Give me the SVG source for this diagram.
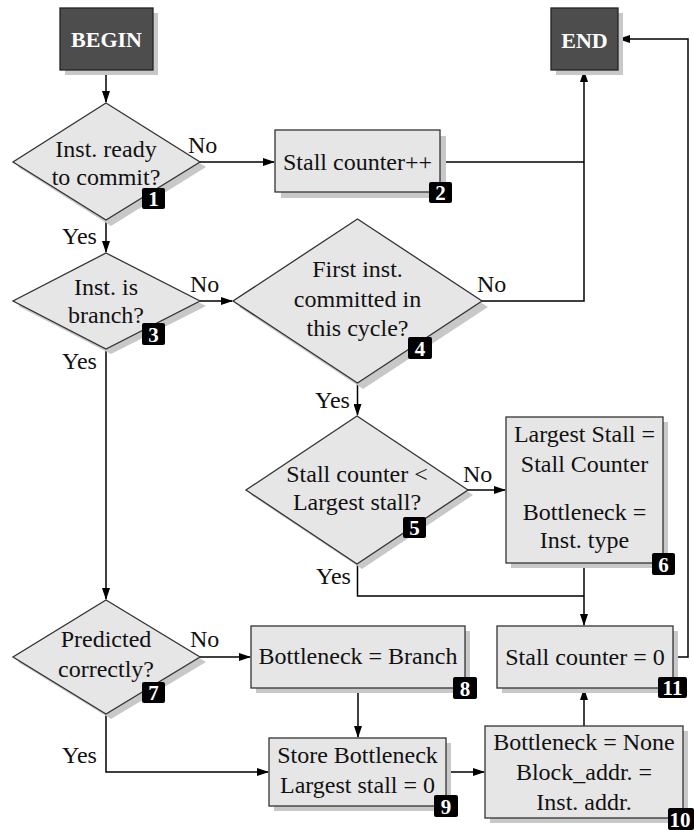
<svg xmlns="http://www.w3.org/2000/svg" width="694" height="830" viewBox="0 0 694 830" font-family="'Liberation Serif', 'Times New Roman', serif" font-size="24">
<style>
svg text{font-family:'Liberation Serif','Times New Roman',serif;font-size:24px;fill:#111;}
.c{text-anchor:middle;}
.shadow{fill:#c8c8c8;stroke:none;}
.box{fill:#e6e6e6;stroke:#333;stroke-width:1.3;}
.dark{fill:#4d4d4d;stroke:#222;stroke-width:1.3;}
svg text.term{fill:#fff;font-weight:bold;font-size:22px;text-anchor:middle;}
svg .badge rect{fill:#000;}
svg .badge text{fill:#fff;font-weight:bold;font-size:21px;text-anchor:middle;}
.conn{fill:none;stroke:#000;stroke-width:1.5;}
</style>
<defs>
<marker id="ah" markerWidth="12" markerHeight="8" refX="11" refY="4" orient="auto" markerUnits="userSpaceOnUse">
<path d="M0,0 L12,4 L0,8 Z" fill="#000"/>
</marker>
</defs>

<g id="connectors">
<path class="conn" d="M106,70 V102" marker-end="url(#ah)"/>
<path class="conn" d="M200,162 H274" marker-end="url(#ah)"/>
<path class="conn" d="M440,162 H584"/>
<path class="conn" d="M482,301 H584 V71" marker-end="url(#ah)"/>
<path class="conn" d="M106,220 V252" marker-end="url(#ah)"/>
<path class="conn" d="M200,301 H232" marker-end="url(#ah)"/>
<path class="conn" d="M106,349 V599" marker-end="url(#ah)"/>
<path class="conn" d="M357.5,383 V415" marker-end="url(#ah)"/>
<path class="conn" d="M468,490 H505" marker-end="url(#ah)"/>
<path class="conn" d="M584,563 V625" marker-end="url(#ah)"/>
<path class="conn" d="M357.5,564 V596 H584"/>
<path class="conn" d="M673,657 H688 V39 H619" marker-end="url(#ah)"/>
<path class="conn" d="M200,657 H250" marker-end="url(#ah)"/>
<path class="conn" d="M106,714 V772 H268" marker-end="url(#ah)"/>
<path class="conn" d="M358,688 V737" marker-end="url(#ah)"/>
<path class="conn" d="M446,772 H484" marker-end="url(#ah)"/>
<path class="conn" d="M584,726 V689" marker-end="url(#ah)"/>
<text x="188" y="153">No</text>
<text x="62" y="244">Yes</text>
<text x="190" y="292">No</text>
<text x="62" y="369">Yes</text>
<text x="477" y="292">No</text>
<text x="315" y="408">Yes</text>
<text x="463" y="482">No</text>
<text x="316" y="584">Yes</text>
<text x="190" y="647">No</text>
<text x="62" y="763">Yes</text>
</g>

<g id="begin">
<rect class="shadow" x="65" y="13" width="93" height="62"/>
<rect class="dark" x="60" y="8" width="93" height="62"/>
<text class="term" x="106.5" y="47">BEGIN</text>
</g>

<g id="end">
<rect class="shadow" x="556" y="13" width="67" height="62"/>
<rect class="dark" x="551" y="8" width="67" height="62"/>
<text class="term" x="584.5" y="48">END</text>
</g>

<g id="n1">
<polygon class="shadow" points="111,108 206,167 111,226 18,167"/>
<polygon class="box" points="106,103 200,162 106,220 13,162"/>
<text class="c" x="106" y="157">Inst. ready</text>
<text class="c" x="106" y="185">to commit?</text>
<g class="badge"><rect x="142" y="188" width="23" height="21" rx="2"/><text x="153.5" y="206">1</text></g>
</g>

<g id="n2">
<rect class="shadow" x="281" y="136" width="165" height="62"/>
<rect class="box" x="275" y="130" width="165" height="62"/>
<text class="c" x="357.5" y="170">Stall counter++</text>
<g class="badge"><rect x="429" y="182" width="23" height="21" rx="2"/><text x="440.5" y="200">2</text></g>
</g>

<g id="n3">
<polygon class="shadow" points="111,258 206,306 111,354 18,306"/>
<polygon class="box" points="106,253 200,301 106,349 13,301"/>
<text class="c" x="106" y="295">Inst. is</text>
<text class="c" x="106" y="323">branch?</text>
<g class="badge"><rect x="142" y="323" width="23" height="22" rx="2"/><text x="153.5" y="342">3</text></g>
</g>

<g id="n4">
<polygon class="shadow" points="363,225 488,307 363,389 239,307"/>
<polygon class="box" points="357.5,219 482,301 357.5,383 233,301"/>
<text class="c" x="357.5" y="277">First inst.</text>
<text class="c" x="357.5" y="307">committed in</text>
<text class="c" x="357.5" y="336">this cycle?</text>
<g class="badge"><rect x="408" y="337" width="24" height="22" rx="2"/><text x="420" y="356">4</text></g>
</g>

<g id="n5">
<polygon class="shadow" points="362,421 473,495 362,569 251,495"/>
<polygon class="box" points="357,416 468,490 357,564 246,490"/>
<text class="c" x="357" y="482">Stall counter &lt;</text>
<text class="c" x="357" y="510">Largest stall?</text>
<g class="badge"><rect x="403" y="517" width="23" height="21" rx="2"/><text x="414.5" y="535">5</text></g>
</g>

<g id="n6">
<rect class="shadow" x="511" y="422" width="157" height="146"/>
<rect class="box" x="506" y="417" width="157" height="146"/>
<text class="c" x="584.5" y="442">Largest Stall =</text>
<text class="c" x="584.5" y="472">Stall Counter</text>
<text class="c" x="584.5" y="520">Bottleneck =</text>
<text class="c" x="584.5" y="548">Inst. type</text>
<g class="badge"><rect x="652" y="553" width="23" height="22" rx="2"/><text x="663.5" y="572">6</text></g>
</g>

<g id="n7">
<polygon class="shadow" points="111,605 206,662 111,719 18,662"/>
<polygon class="box" points="106,600 200,657 106,714 13,657"/>
<text class="c" x="106" y="647">Predicted</text>
<text class="c" x="106" y="677">correctly?</text>
<g class="badge"><rect x="142" y="682" width="23" height="21" rx="2"/><text x="153.5" y="700">7</text></g>
</g>

<g id="n8">
<rect class="shadow" x="256" y="631" width="214" height="62"/>
<rect class="box" x="251" y="626" width="214" height="62"/>
<text class="c" x="358" y="664">Bottleneck = Branch</text>
<g class="badge"><rect x="453" y="677" width="24" height="22" rx="2"/><text x="465" y="696">8</text></g>
</g>

<g id="n9">
<rect class="shadow" x="274" y="743" width="177" height="68"/>
<rect class="box" x="269" y="738" width="177" height="68"/>
<text class="c" x="357.5" y="763">Store Bottleneck</text>
<text class="c" x="357.5" y="793">Largest stall = 0</text>
<g class="badge"><rect x="434" y="795" width="24" height="22" rx="2"/><text x="446" y="814">9</text></g>
</g>

<g id="n10">
<rect class="shadow" x="490" y="731" width="198" height="92"/>
<rect class="box" x="485" y="726" width="198" height="92"/>
<text class="c" x="584" y="750">Bottleneck = None</text>
<text class="c" x="584" y="780">Block_addr. =</text>
<text class="c" x="584" y="810">Inst. addr.</text>
<g class="badge"><rect x="668" y="808" width="26" height="22" rx="2"/><text x="680" y="827">10</text></g>
</g>

<g id="n11">
<rect class="shadow" x="502" y="631" width="176" height="62"/>
<rect class="box" x="497" y="626" width="176" height="62"/>
<text class="c" x="585" y="665">Stall counter = 0</text>
<g class="badge"><rect x="658" y="677" width="29" height="21" rx="2"/><text x="672.5" y="695">11</text></g>
</g>
</svg>
